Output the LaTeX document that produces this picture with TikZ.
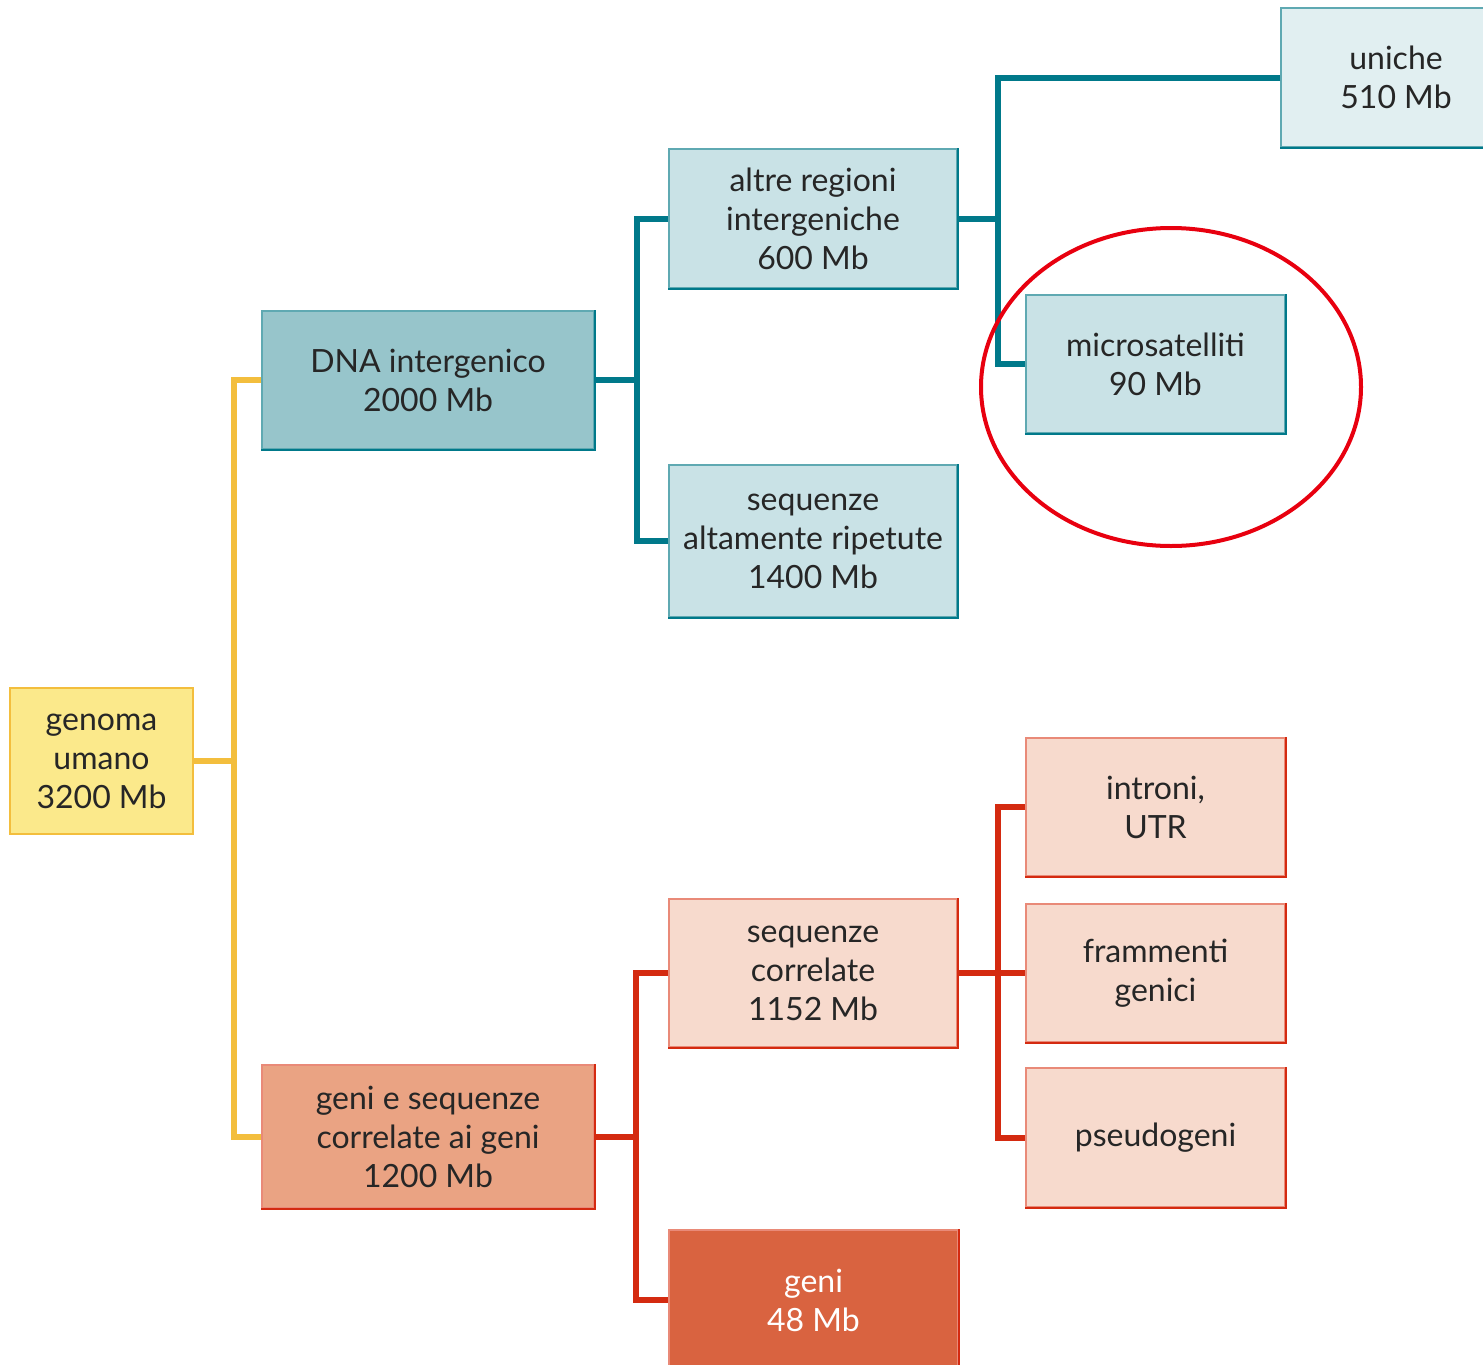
\documentclass[tikz,border=0pt]{standalone}
\usepackage{fontspec}
\setmainfont{Lato}
\usepackage{tikz}

\definecolor{tealdark}{HTML}{00798A}
\definecolor{tealmid}{HTML}{5FA9B2}
\definecolor{tealfill}{HTML}{97C5CB}
\definecolor{teallight}{HTML}{C9E2E6}
\definecolor{tealpale}{HTML}{E1EFF1}
\definecolor{reddark}{HTML}{D42A10}
\definecolor{redmid}{HTML}{E98A78}
\definecolor{redfill}{HTML}{EAA383}
\definecolor{redlight}{HTML}{F7DACD}
\definecolor{redstrong}{HTML}{D96340}
\definecolor{yelfill}{HTML}{FBE98B}
\definecolor{yelline}{HTML}{F3BE3D}
\definecolor{ringred}{HTML}{E8000F}

\tikzset{
  box/.style={rectangle, inner sep=0pt, align=center, text=black!85,
    font=\fontsize{16}{19.5}\selectfont},
  tealbox/.style={box, draw=tealmid, line width=0.75pt},
  redbox/.style={box, draw=redmid, line width=0.75pt},
  tline/.style={draw=tealdark, line width=3pt},
  rline/.style={draw=reddark, line width=3pt},
  yline/.style={draw=yelline, line width=3pt},
}

\begin{document}
\begin{tikzpicture}[x=0.5pt,y=-0.5pt]
\useasboundingbox (0,0) rectangle (1483,1365);

% boxes
\node[box, fill=yelfill, draw=yelline, line width=1pt, minimum width=91.5pt, minimum height=73pt]
  (genoma) at (101.5,761) {genoma\\umano\\3200 Mb};
\node[tealbox, fill=tealfill, minimum width=166pt, minimum height=69pt]
  (dna) at (428,380) {DNA intergenico\\2000 Mb};
\node[redbox, fill=redfill, minimum width=166pt, minimum height=71.5pt]
  (geneseq) at (428,1136.5) {geni e sequenze\\correlate ai geni\\1200 Mb};
\node[tealbox, fill=teallight, minimum width=144pt, minimum height=69.5pt]
  (altre) at (813,218.5) {altre regioni\\intergeniche\\600 Mb};
\node[tealbox, fill=teallight, minimum width=144pt, minimum height=76pt]
  (altamente) at (813,541) {sequenze\\altamente ripetute\\1400 Mb};
\node[redbox, fill=redlight, minimum width=144pt, minimum height=74pt]
  (correlate) at (813,973) {sequenze\\correlate\\1152 Mb};
\node[redbox, fill=redstrong, text=white, minimum width=144.5pt, minimum height=70pt]
  (geni) at (813.5,1300) {geni\\48 Mb};
\node[tealbox, fill=tealpale, minimum width=115pt, minimum height=69.5pt]
  (uniche) at (1396,77.5) {uniche\\510 Mb};
\node[tealbox, fill=teallight, minimum width=129.5pt, minimum height=69pt]
  (micro) at (1155.5,364) {microsatelliti\\90 Mb};
\node[redbox, fill=redlight, minimum width=129.5pt, minimum height=69pt]
  (introni) at (1155.5,807) {introni,\\UTR};
\node[redbox, fill=redlight, minimum width=129.5pt, minimum height=69pt]
  (frammenti) at (1155.5,973) {frammenti\\genici};
\node[redbox, fill=redlight, minimum width=129.5pt, minimum height=69.5pt]
  (pseudo) at (1155.5,1137.5) {pseudogeni};

% darker lower and right edges
\foreach \n in {dna,altre,altamente,uniche,micro}
  \draw[tealdark, line width=1.25pt] (\n.north east) -- (\n.south east) -- (\n.south west);
\foreach \n in {geneseq,correlate,geni,introni,frammenti,pseudo}
  \draw[reddark, line width=1.25pt] (\n.north east) -- (\n.south east) -- (\n.south west);

% junctions
\coordinate (yj) at (234,761);
\coordinate (tj1) at (637,380);
\coordinate (tj2) at (998,218.5);
\coordinate (rj1) at (636,1136.5);
\coordinate (rj2) at (998,973);

% connectors
\draw[yline] (genoma.east) -- (yj);
\draw[yline] (dna.west) -| (yj) |- (geneseq.west);
\draw[tline] (dna.east) -- (tj1);
\draw[tline] (altre.west) -| (tj1) |- (altamente.west);
\draw[tline] (altre.east) -- (tj2);
\draw[tline] (uniche.west) -| (tj2) |- (micro.west);
\draw[rline] (geneseq.east) -- (rj1);
\draw[rline] (correlate.west) -| (rj1) |- (geni.west);
\draw[rline] (correlate.east) -- (frammenti.west);
\draw[rline] (introni.west) -| (rj2) |- (pseudo.west);

% highlight ring
\draw[ringred, line width=2pt] (1171,387) ellipse [x radius=190, y radius=159];
\end{tikzpicture}
\end{document}
